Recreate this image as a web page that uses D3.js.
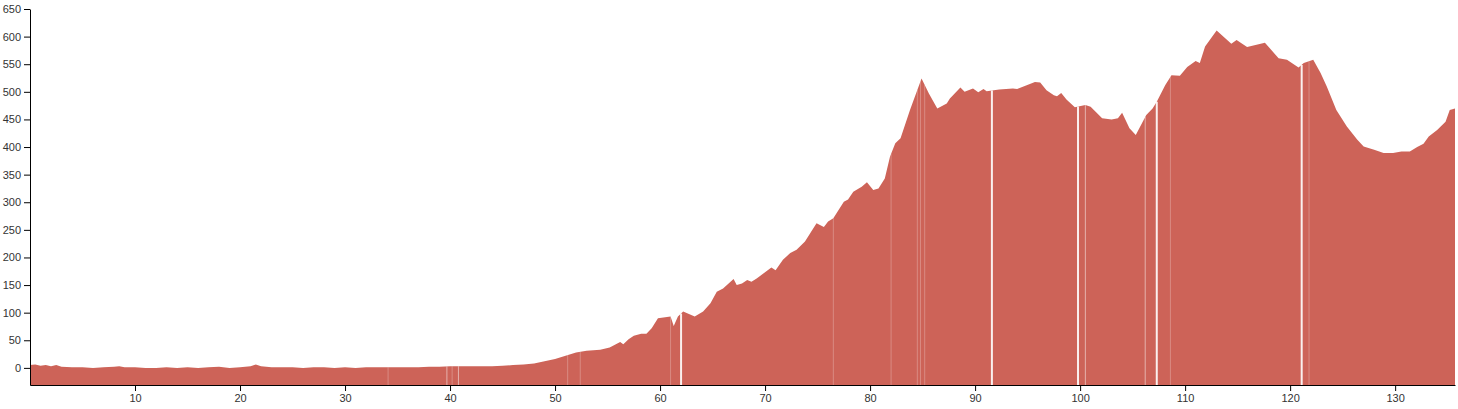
<!DOCTYPE html>
<html>
<head>
<meta charset="utf-8">
<script src="https://cdn.jsdelivr.net/npm/d3@7"></script>
<style>
  html, body { margin: 0; padding: 0; background: #fff; }
  svg { display: block; }
  .tick text { font-family: Arial, "Liberation Sans", sans-serif; font-size: 11px; fill: #333; }
</style>
</head>
<body>
<svg id="chart" width="1458" height="409"></svg>
<script>
// distance along route (km)
const distanceKm = [0,0.5,1,1.5,2,2.5,3,4,5,6,7,8,8.5,9,10,11,12,13,14,15,16,17,18,19,20,21,21.5,22,23,24,25,26,27,28,29,30,31,32,33,34,35,36,37,38,39,40,41,42,43,44,45,46,47,48,49,50,51,52,53,54.3,55.2,56.2,56.5,57,57.5,58.2,58.7,59.2,59.8,61.0,61.3,61.7,62.2,63.3,64.1,64.8,65.4,66.0,67.0,67.3,67.8,68.3,68.7,69.2,70.6,71.0,71.7,72.4,73.0,73.8,74.9,75.6,76.0,76.5,77.5,77.9,78.4,79.2,79.7,80.3,80.8,81.4,81.9,82.4,82.9,83.8,84.9,85.6,86.4,87.3,87.6,88.6,89.0,89.8,90.3,90.8,91.1,92.3,93.6,94.0,95.7,96.2,96.8,97.5,97.8,98.2,98.7,99.5,100.5,101.0,102.1,103.0,103.6,104.0,104.7,105.3,106.3,106.9,107.3,108.1,108.7,109.5,110.2,111.0,111.4,111.9,113.0,114.4,114.9,115.9,117.6,118.9,119.7,120.8,121.3,122.2,122.9,123.5,124.4,125.4,126.4,127.0,128.0,128.9,129.8,130.6,131.4,132.1,132.7,133.2,134.0,134.8,135.2,135.7];
// elevation (m)
const elevationM = [5,6,4,5,3,5,2,1,1,0,1,2,3,1,1,0,0,1,0,1,0,1,2,0,1,3,6,3,1,1,1,0,1,1,0,1,0,1,1,1,1,1,1,2,2,3,3,3,3,3,4,5,6,8,12,16,22,28,31,33,37,47,43,52,58,62,62,72,90,93,76,93,102,93,102,117,138,144,161,150,153,159,156,162,182,177,196,208,214,229,262,255,265,271,301,305,319,328,336,322,325,343,383,407,416,467,524,497,470,479,488,508,500,506,499,505,501,504,506,505,518,517,503,494,492,498,486,472,476,473,452,450,452,462,434,422,458,470,482,512,530,529,545,556,552,582,611,587,594,581,589,561,558,544,552,558,534,509,467,437,413,401,395,389,389,392,392,400,406,419,431,446,467,470];
// positions (km) where the profile shows gaps, and how visible each gap is
const gapKm = [34.1,39.7,40.2,40.8,51.2,52.4,61.0,62.0,76.5,82.0,84.5,84.8,85.2,91.6,99.8,100.5,106.2,107.3,108.6,121.1,121.8];
const gapStrength = [1,2,1,2,1,1,1,3,1,1,1,1,1,3,3,2,2,3,1,3,1];
const xTicks = [10,20,30,40,50,60,70,80,90,100,110,120,130];
const yTicks = [0,50,100,150,200,250,300,350,400,450,500,550,600,650];

const svg = d3.select("#chart");
const mLeft = 30, mRight = 1455, mTop = 9, mBottom = 385;

const x = d3.scaleLinear().domain([0, 135.7]).range([mLeft, mRight]);
const y = d3.scaleLinear().domain([-31, 650]).range([mBottom, mTop]);

const data = distanceKm.map((d, i) => ({ d, e: elevationM[i] }));

const area = d3.area()
  .x(p => x(p.d))
  .y0(y(-31))
  .y1(p => y(p.e));

svg.append("path")
  .datum(data)
  .attr("d", area)
  .attr("fill", "#cd6358");

function elevAt(km) {
  const i = d3.bisectLeft(distanceKm, km);
  const a = Math.max(0, i - 1), b = Math.min(distanceKm.length - 1, i);
  const da = distanceKm[a], db = distanceKm[b];
  const t = db === da ? 0 : (km - da) / (db - da);
  return elevationM[a] + (elevationM[b] - elevationM[a]) * t;
}

// gap lines
const alpha = [0, 0.25, 0.5, 0.9];
const widths = [0, 1, 1, 2];
svg.append("g").selectAll("line")
  .data(gapKm.map((g, i) => ({ g, s: gapStrength[i] })))
  .join("line")
  .attr("x1", d => x(d.g)).attr("x2", d => x(d.g))
  .attr("y1", y(-31))
  .attr("y2", d => y(elevAt(d.g)))
  .attr("stroke", "#fff")
  .attr("stroke-opacity", d => alpha[d.s])
  .attr("stroke-width", d => widths[d.s]);

svg.append("g")
  .attr("transform", `translate(0,${mBottom})`)
  .call(d3.axisBottom(x).tickValues(xTicks).tickSizeOuter(0).tickFormat(d3.format("d")));

svg.append("g")
  .attr("transform", `translate(${mLeft},0)`)
  .call(d3.axisLeft(y).tickValues(yTicks).tickSizeOuter(0).tickFormat(d3.format("d")));
</script>
</body>
</html>
